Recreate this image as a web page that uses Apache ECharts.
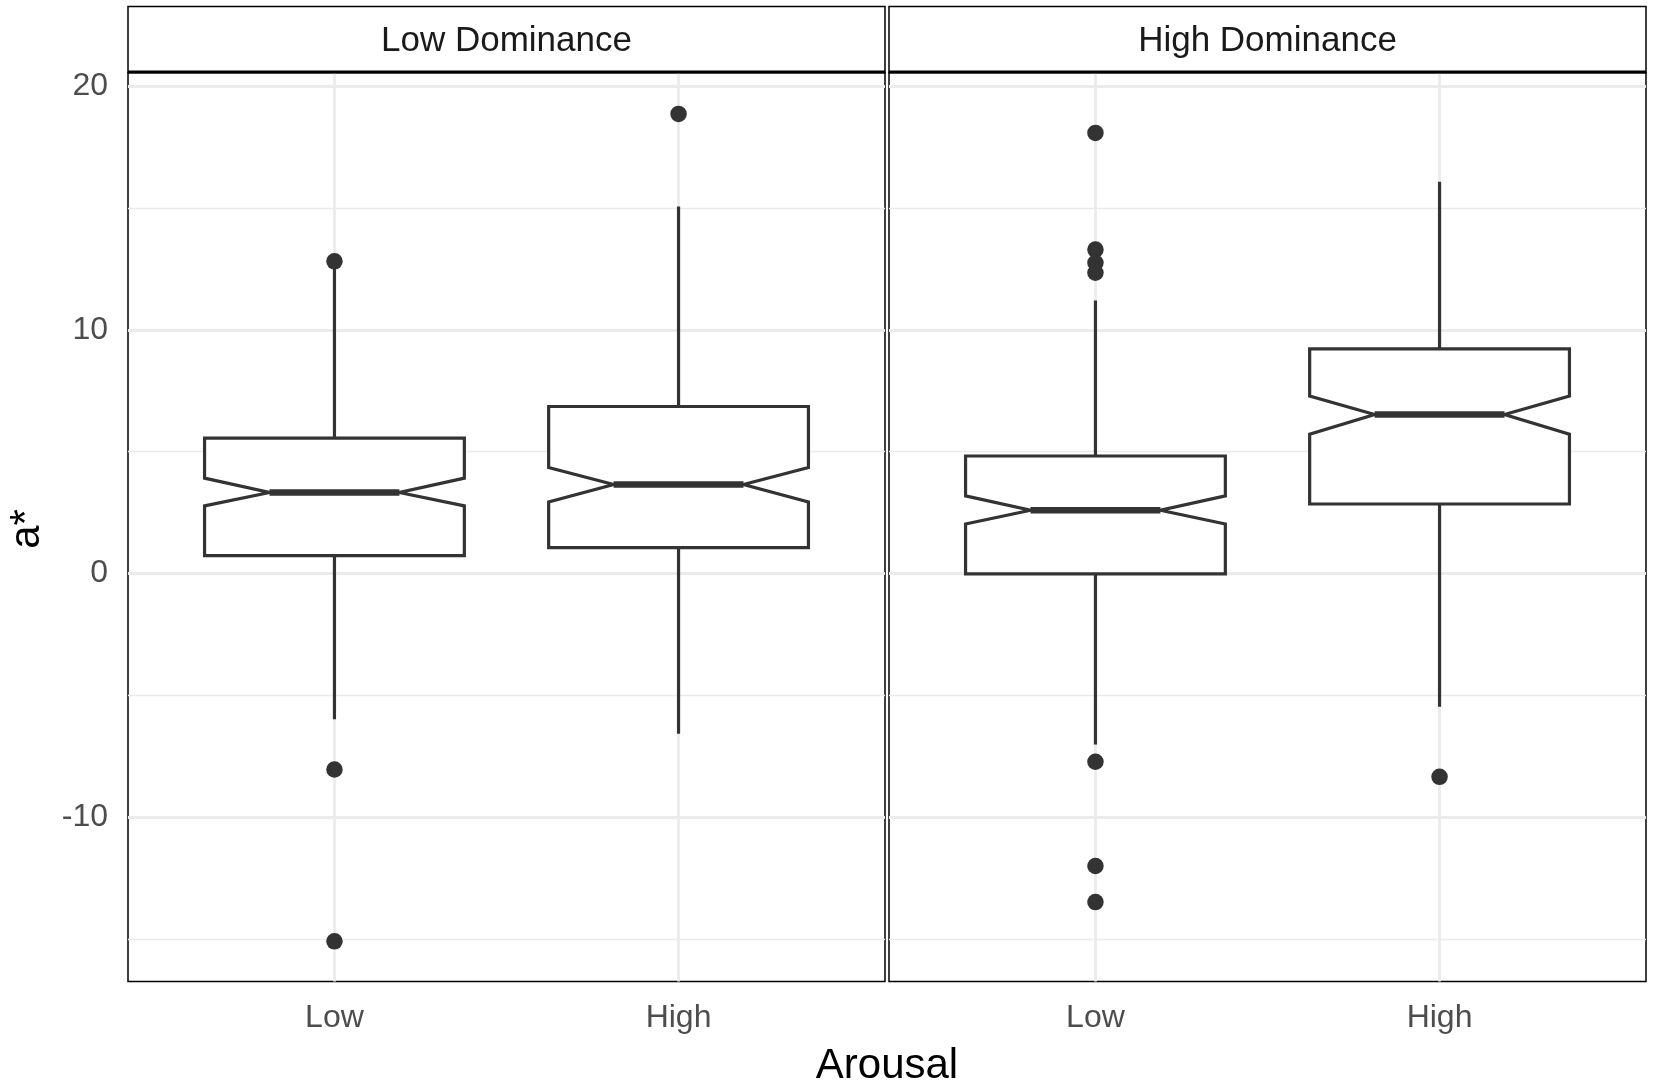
<!DOCTYPE html>
<html>
<head>
<meta charset="utf-8">
<script src="https://cdn.jsdelivr.net/npm/echarts@6/dist/echarts.min.js"></script>
<style>html,body{margin:0;padding:0;background:#fff;}#c{width:1654px;height:1084px;}</style>
</head>
<body>
<div id="c"></div>
<script>
// ---- data ----
var categories = ['Low', 'High'];
var panelTitles = ['Low Dominance', 'High Dominance'];
var xTitle = 'Arousal';
var yTitle = 'a*';
var yTickLabels = [-10, 0, 10, 20];
var gridMajor = [-10, 0, 10, 20];
var gridMinor = [-15, -5, 5, 15];
// [whiskerLow, q1, notchLow, median, notchHigh, q3, whiskerHigh]
var lowDomLow  = [-5.99, 0.73, 2.77, 3.32, 3.91, 5.55, 12.7];
var lowDomHigh = [-6.58, 1.06, 2.93, 3.65, 4.35, 6.85, 15.06];
var highDomLow  = [-7.02, -0.02, 2.03, 2.59, 3.18, 4.82, 11.2];
var highDomHigh = [-5.47, 2.85, 5.71, 6.52, 7.28, 9.22, 16.08];
var lowDomOutLow  = [12.81, -8.05, -15.1];
var lowDomOutHigh = [18.86];
var highDomOutLow  = [18.08, 13.29, 12.75, 12.34, -7.73, -12.01, -13.49];
var highDomOutHigh = [-8.35];
var yMin = -16.75, yMax = 20.56;
var xMin = 0.4, xMax = 2.6;   // discrete positions 1..2 with ggplot-style expansion

var FONT = 'Liberation Sans, Arial, Helvetica, sans-serif';
var INK = '#333333';
var GRIDC = '#ebebeb';

var panels = [
  {boxes: [lowDomLow, lowDomHigh], outs: [lowDomOutLow, lowDomOutHigh], left: 128},
  {boxes: [highDomLow, highDomHigh], outs: [highDomOutLow, highDomOutHigh], left: 889}
];
var PW = 757, PTOP = 72.5, PH = 909;
var catPos = categories.map(function (c, i) { return i + 1; });

function renderBox(params, api) {
  var i = api.value(0);
  var v = [api.value(1), api.value(2), api.value(3), api.value(4), api.value(5), api.value(6), api.value(7)];
  var cx = api.coord([i, v[3]])[0];
  var hw = api.size([1, 0])[0] * 0.755 / 2;
  var y = v.map(function (d) { return api.coord([i, d])[1]; });
  var xl = cx - hw, xr = cx + hw, il = cx - hw / 2, ir = cx + hw / 2;
  var pts = [[xl, y[5]], [xr, y[5]], [xr, y[4]], [ir, y[3]], [xr, y[2]], [xr, y[1]],
             [xl, y[1]], [xl, y[2]], [il, y[3]], [xl, y[4]]];
  return {
    type: 'group',
    children: [
      {type: 'line', shape: {x1: cx, y1: y[5], x2: cx, y2: y[6]}, style: {stroke: INK, lineWidth: 3.2}},
      {type: 'line', shape: {x1: cx, y1: y[1], x2: cx, y2: y[0]}, style: {stroke: INK, lineWidth: 3.2}},
      {type: 'polygon', shape: {points: pts}, style: {fill: '#ffffff', stroke: INK, lineWidth: 3.2, lineJoin: 'miter'}},
      {type: 'line', shape: {x1: il, y1: y[3], x2: ir, y2: y[3]}, style: {stroke: INK, lineWidth: 6.5}}
    ]
  };
}

var grids = [], xAxes = [], yAxes = [], series = [], graphics = [];
panels.forEach(function (p, k) {
  grids.push({left: p.left, top: PTOP, width: PW, height: PH, show: true,
              borderColor: '#000', borderWidth: 1.5, backgroundColor: '#fff'});
  xAxes.push({type: 'value', gridIndex: k, min: xMin, max: xMax,
              axisLine: {show: false}, axisTick: {show: false}, splitLine: {show: false},
              axisLabel: {customValues: catPos, formatter: function (v) { return categories[Math.round(v) - 1] || ''; },
                          fontFamily: FONT, fontSize: 32, color: '#4d4d4d', margin: 21}});
  yAxes.push({type: 'value', gridIndex: k, min: yMin, max: yMax,
              axisLine: {show: false}, axisTick: {show: false}, splitLine: {show: false},
              axisLabel: {show: k === 0, customValues: yTickLabels, fontFamily: FONT, fontSize: 32,
                          color: '#4d4d4d', margin: 20, padding: [6, 0, 0, 0]}});
  // gridlines
  var ml = [];
  gridMinor.forEach(function (g) { ml.push({yAxis: g, lineStyle: {color: GRIDC, width: 1.4, type: 'solid'}}); });
  gridMajor.forEach(function (g) { ml.push({yAxis: g, lineStyle: {color: GRIDC, width: 2.8, type: 'solid'}}); });
  catPos.forEach(function (c) { ml.push({xAxis: c, lineStyle: {color: GRIDC, width: 2.8, type: 'solid'}}); });
  series.push({type: 'line', xAxisIndex: k, yAxisIndex: k, data: [], silent: true, z: 1,
               markLine: {silent: true, z: 1, zlevel: 0, symbol: ['none', 'none'], label: {show: false},
                          animation: false, data: ml}});
  // boxes
  series.push({type: 'custom', xAxisIndex: k, yAxisIndex: k, z: 3, renderItem: renderBox,
               data: p.boxes.map(function (b, i) { return [catPos[i]].concat(b); }),
               encode: {x: 0, y: [1, 2, 3, 4, 5, 6, 7]}, animation: false});
  // outliers
  var pts = [];
  p.outs.forEach(function (arr, i) { arr.forEach(function (v) { pts.push([catPos[i], v]); }); });
  series.push({type: 'scatter', xAxisIndex: k, yAxisIndex: k, z: 4, data: pts, symbolSize: 16.5,
               itemStyle: {color: INK, opacity: 1}, animation: false});
  // strip
  graphics.push({type: 'rect', shape: {x: p.left, y: 6.5, width: PW, height: 66},
                 style: {fill: '#fff', stroke: '#000', lineWidth: 1.5}, z: 10});
  graphics.push({type: 'line', shape: {x1: p.left, y1: 72, x2: p.left + PW, y2: 72},
                 style: {stroke: '#000', lineWidth: 2.8}, z: 11});
  graphics.push({type: 'text', x: p.left + PW / 2, y: 41, z: 12,
                 style: {text: panelTitles[k], font: '35px ' + FONT, fill: '#1a1a1a',
                         textAlign: 'center', textVerticalAlign: 'middle'}});
});
graphics.push({type: 'text', x: 887, y: 1066, z: 12,
               style: {text: xTitle, font: '42px ' + FONT, fill: '#000', textAlign: 'center', textVerticalAlign: 'middle'}});
graphics.push({type: 'text', x: 27, y: 529, rotation: Math.PI / 2, z: 12,
               style: {text: yTitle, font: '42px ' + FONT, fill: '#000', textAlign: 'center', textVerticalAlign: 'middle'}});

var chart = echarts.init(document.getElementById('c'), null, {renderer: 'canvas'});
chart.setOption({
  animation: false,
  backgroundColor: '#fff',
  grid: grids, xAxis: xAxes, yAxis: yAxes, series: series, graphic: graphics
});
</script>
</body>
</html>
